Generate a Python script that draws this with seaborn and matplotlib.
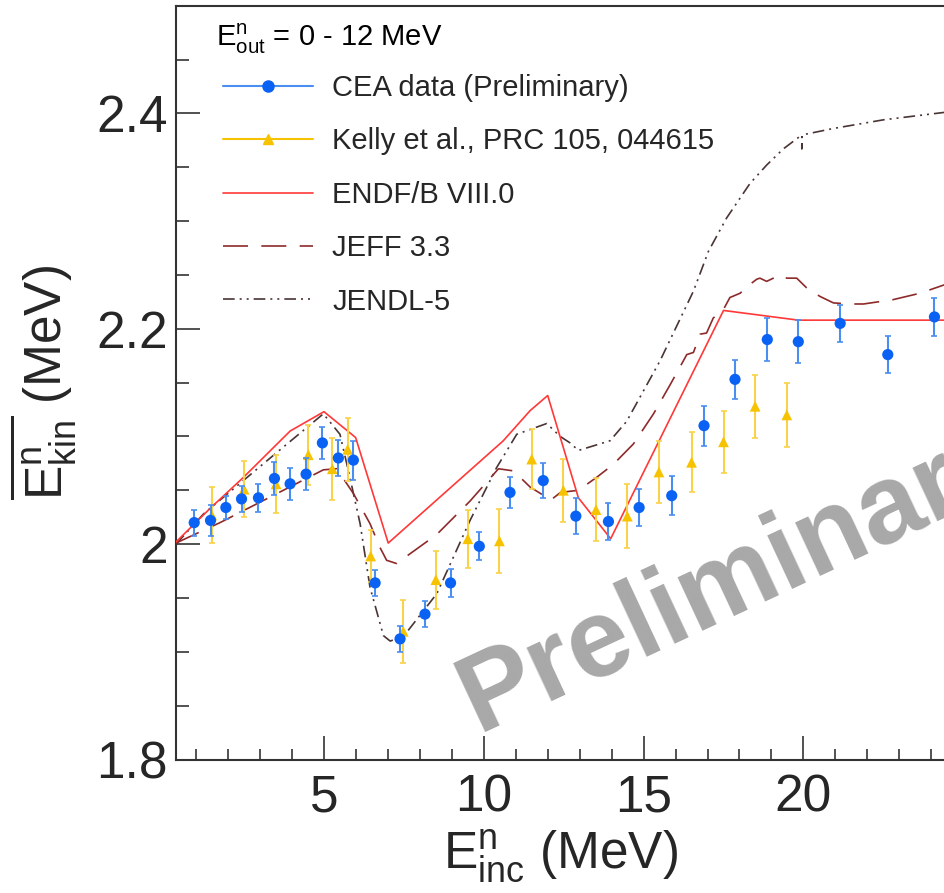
import numpy as np
import pandas as pd
import matplotlib
matplotlib.use("Agg")
import matplotlib.pyplot as plt
from matplotlib.ticker import MultipleLocator, FixedLocator, FixedFormatter
from matplotlib.lines import Line2D
import seaborn as sns

# ---------------- data ----------------
cea_x = [0.94, 1.45, 1.93, 2.42, 2.95, 3.45, 3.94, 4.44, 4.95, 5.45, 5.92, 6.60, 7.38, 8.16,
         8.96, 9.86, 10.82, 11.86, 12.88, 13.90, 14.86, 15.88, 16.89, 17.86, 18.87, 19.84,
         21.15, 22.64, 24.10]
cea_y = [2.020, 2.022, 2.034, 2.042, 2.043, 2.061, 2.056, 2.065, 2.094, 2.080, 2.078, 1.964,
         1.912, 1.935, 1.964, 1.998, 2.048, 2.059, 2.026, 2.021, 2.034, 2.045, 2.110, 2.153,
         2.190, 2.188, 2.205, 2.176, 2.211]
cea_err = [0.012, 0.014, 0.011, 0.012, 0.013, 0.015, 0.015, 0.015, 0.015, 0.017, 0.018, 0.012,
           0.012, 0.012, 0.013, 0.013, 0.0145, 0.016, 0.017, 0.017, 0.017, 0.018, 0.0185, 0.018,
           0.020, 0.020, 0.017, 0.017, 0.018]

kelly_x = [1.49, 2.50, 3.50, 4.51, 5.26, 5.74, 6.46, 7.48, 8.50, 9.50, 10.49, 11.50, 12.49,
           13.51, 14.49, 15.48, 16.50, 17.50, 18.49, 19.48]
kelly_y = [2.027, 2.051, 2.056, 2.083, 2.070, 2.088, 1.989, 1.919, 1.967, 2.005, 2.003, 2.079,
           2.050, 2.032, 2.026, 2.067, 2.076, 2.095, 2.128, 2.120]
kelly_err = [0.026, 0.026, 0.027, 0.028, 0.029, 0.029, 0.024, 0.029, 0.027, 0.027, 0.030, 0.028,
             0.029, 0.029, 0.030, 0.029, 0.028, 0.029, 0.029, 0.030]

endf_x = [0.37, 1.43, 2.48, 3.94, 5.00, 5.99, 7.01, 10.61, 11.45, 12.00, 12.96, 13.97, 17.50,
          19.84, 24.43]
endf_y = [2.002, 2.033, 2.062, 2.105, 2.123, 2.099, 2.001, 2.096, 2.124, 2.138, 2.043, 2.005,
          2.217, 2.208, 2.208]

jeff_x = [0.37, 1.75, 4.98, 5.40, 5.92, 6.44, 6.75, 6.96, 7.27, 8.53, 9.57, 10.46, 10.93,
          11.45, 12.10, 12.40, 12.96, 13.53, 14.05, 14.68, 15.31, 15.83, 16.24, 16.35, 16.56,
          16.77, 16.97, 17.18, 17.50, 17.70, 18.02, 18.23, 18.54, 18.64, 18.85, 19.06, 19.27,
          19.48, 19.79, 20.10, 20.52, 20.94, 21.46, 21.88, 22.80, 23.65, 24.43]
jeff_y = [2.001, 2.020, 2.069, 2.070, 2.047, 2.019, 1.997, 1.985, 1.982, 2.009, 2.040, 2.070,
          2.068, 2.053, 2.041, 2.048, 2.050, 2.062, 2.074, 2.093, 2.121, 2.148, 2.170, 2.176,
          2.178, 2.195, 2.196, 2.210, 2.218, 2.229, 2.233, 2.239, 2.246, 2.247, 2.244, 2.247,
          2.250, 2.247, 2.247, 2.238, 2.230, 2.224, 2.223, 2.223, 2.227, 2.233, 2.241]

jendl_x = [0.37, 1.23, 3.52, 4.98, 5.50, 5.81, 6.13, 6.44, 6.86, 7.07, 7.48, 8.53, 9.57,
           10.40, 11.03, 11.97, 12.39, 12.70, 12.96, 13.95, 14.47, 15.51, 16.56, 17.03, 17.60,
           18.33, 18.85, 19.37, 19.95, 19.95, 19.96, 20.94, 22.50, 24.43]
jendl_y = [2.000, 2.028, 2.085, 2.121, 2.102, 2.062, 2.019, 1.960, 1.915, 1.910, 1.914, 1.954,
           2.022, 2.071, 2.102, 2.112, 2.100, 2.094, 2.087, 2.096, 2.114, 2.170, 2.235, 2.272,
           2.303, 2.335, 2.352, 2.367, 2.380, 2.367, 2.380, 2.386, 2.394, 2.401]

y_ticks = [1.8, 2.0, 2.2, 2.4]
y_tick_labels = ["1.8", "2", "2.2", "2.4"]
x_ticks = [5, 10, 15, 20]
x_tick_labels = ["5", "10", "15", "20"]

legend_labels = ["CEA data (Preliminary)", "Kelly et al., PRC 105, 044615",
                 "ENDF/B VIII.0", "JEFF 3.3", "JENDL-5"]

# ---------------- style ----------------
sns.set_theme(style="ticks")
plt.rcParams["font.family"] = ["Liberation Sans", "DejaVu Sans"]
plt.rcParams["mathtext.fontset"] = "custom"
plt.rcParams["mathtext.rm"] = "Liberation Sans"
plt.rcParams["mathtext.it"] = "Liberation Sans"
plt.rcParams["mathtext.bf"] = "Liberation Sans:bold"

c_cea = "#0a62f5"
c_cea_err = "#4a8ef0"
c_kelly = "#f7c300"
c_kelly_err = "#f9d24a"
c_endf = "#ff3838"
c_jeff = "#8e2a2a"
c_jendl = "#4a3434"
axis_col = "#333333"

fig = plt.figure(figsize=(9.45, 8.93), dpi=100)
W, H = 945.0, 893.0
left_px, right_px, bot_px, top_px = 176.0, 945.0, 759.5, 5.7
ax = fig.add_axes([left_px / W, 1 - bot_px / H, (right_px - left_px) / W, (bot_px - top_px) / H])

# watermark
fig.text(478 / W, 1 - 732 / H, "Preliminary", rotation=25, rotation_mode="anchor",
         ha="left", va="baseline", fontsize=80, fontweight="bold", color="#a8a8a8", zorder=0)

# ---------------- model curves ----------------
lw = 1.2
sns.lineplot(x=jendl_x, y=jendl_y, ax=ax, color=c_jendl, linewidth=lw,
             linestyle=(0, (7, 3, 1.2, 3, 1.2, 3)), estimator=None, sort=False, zorder=3)
sns.lineplot(x=jeff_x, y=jeff_y, ax=ax, color=c_jeff, linewidth=lw,
             linestyle=(0, (15, 8)), estimator=None, sort=False, zorder=3)
sns.lineplot(x=endf_x, y=endf_y, ax=ax, color=c_endf, linewidth=lw,
             estimator=None, sort=False, zorder=3)

# ---------------- data points ----------------
ax.errorbar(kelly_x, kelly_y, yerr=kelly_err, fmt="none", ecolor=c_kelly_err,
            elinewidth=1.5, capsize=2.5, capthick=1.2, zorder=4)
sns.scatterplot(x=kelly_x, y=kelly_y, ax=ax, marker="^", color=c_kelly, s=60,
                edgecolor="none", linewidth=0, zorder=5)
ax.errorbar(cea_x, cea_y, yerr=cea_err, fmt="none", ecolor=c_cea_err,
            elinewidth=1.5, capsize=2.5, capthick=1.2, zorder=6)
sns.scatterplot(x=cea_x, y=cea_y, ax=ax, marker="o", color=c_cea, s=65,
                edgecolor="none", linewidth=0, zorder=7)

# ---------------- axes ----------------
ax.set_xlim(0.37, 24.43)
ax.set_ylim(1.8, 2.5)
ax.xaxis.set_major_locator(FixedLocator(x_ticks))
ax.xaxis.set_major_formatter(FixedFormatter(x_tick_labels))
ax.xaxis.set_minor_locator(MultipleLocator(1))
ax.yaxis.set_major_locator(FixedLocator(y_ticks))
ax.yaxis.set_major_formatter(FixedFormatter(y_tick_labels))
ax.yaxis.set_minor_locator(MultipleLocator(0.05))

ax.tick_params(axis="both", which="both", direction="in", color=axis_col, width=1.2)
ax.tick_params(axis="x", which="major", length=17, labelsize=37, pad=10)
ax.tick_params(axis="x", which="minor", length=8)
ax.tick_params(axis="y", which="major", length=17, labelsize=37, pad=6)
ax.tick_params(axis="y", which="minor", length=9)
for s in ["left", "bottom", "top"]:
    ax.spines[s].set_color(axis_col)
    ax.spines[s].set_linewidth(1.5)
ax.spines["right"].set_visible(False)

ax.set_xlabel(r"$\mathrm{E^{n}_{inc}}$ (MeV)", fontsize=37, labelpad=4)
ax.set_ylabel(r"$\overline{\mathrm{E^{n}_{kin}}}$ (MeV)", fontsize=37, labelpad=12)

# ---------------- legend ----------------
handles = [
    Line2D([], [], color=c_cea_err, lw=1.5, marker="o", markersize=8,
           markerfacecolor=c_cea, markeredgecolor=c_cea),
    Line2D([], [], color=c_kelly, lw=1.5, marker="^", markersize=7,
           markerfacecolor=c_kelly, markeredgecolor=c_kelly),
    Line2D([], [], color=c_endf, lw=lw),
    Line2D([], [], color=c_jeff, lw=lw, linestyle=(0, (15, 8))),
    Line2D([], [], color=c_jendl, lw=lw, linestyle=(0, (7, 3, 1.2, 3, 1.2, 3))),
]
leg = ax.legend(handles, legend_labels, loc="upper left", frameon=False, numpoints=1,
                bbox_to_anchor=(223 / W, 1 - 74 / H), bbox_transform=fig.transFigure,
                borderaxespad=0, borderpad=0, fontsize=21, handlelength=3.1,
                handletextpad=0.65, labelspacing=0.87)

ax.text(216 / W, 1 - 46 / H, r"$\mathrm{E^{n}_{out}}$ = 0 - 12 MeV", transform=fig.transFigure,
        fontsize=21, ha="left", va="baseline", color="black")

fig.savefig("out.png", dpi=100)
